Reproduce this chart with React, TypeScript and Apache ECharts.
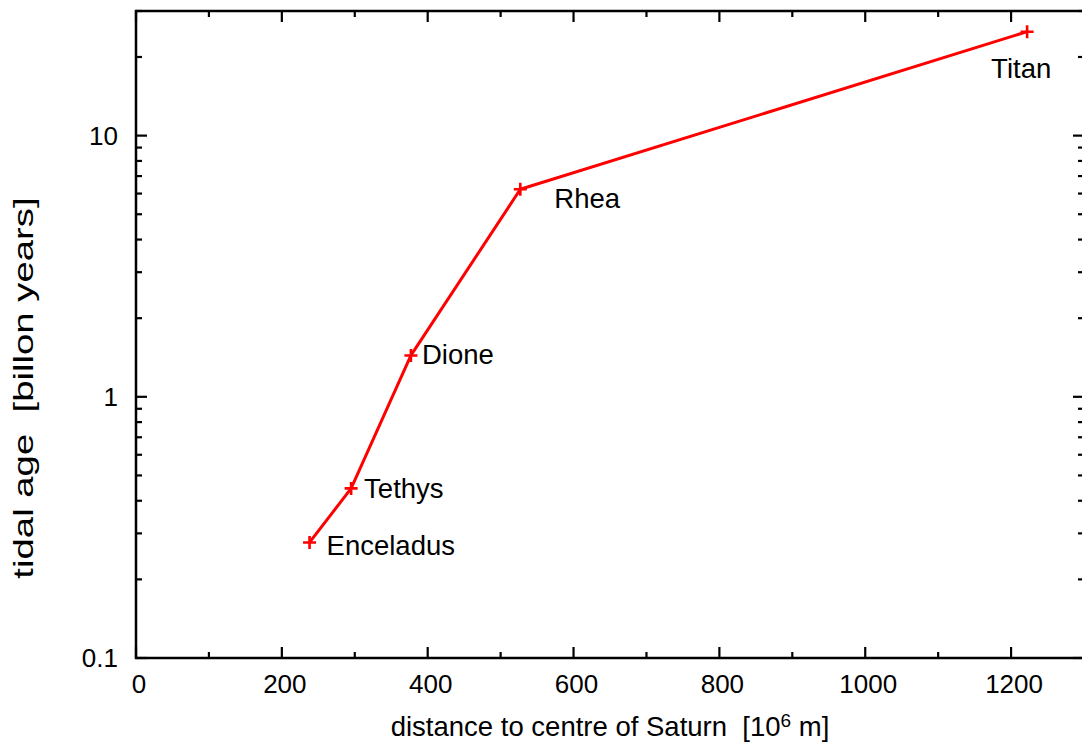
import React, { useEffect, useRef } from "react";
import * as echarts from "echarts";

const moons = ["Enceladus", "Tethys", "Dione", "Rhea", "Titan"];
const distance = [238, 295, 377, 527, 1222]; // 10^6 m
const tidalAge = [0.277, 0.446, 1.44, 6.23, 25.0]; // billion years
const labelOffsets = [[17, 3], [13, 0], [11, -1], [34, 9], [-36, 37]];

const xMajorTicks = [0, 200, 400, 600, 800, 1000, 1200];
const xMinorTicks = [100, 300, 500, 700, 900, 1100, 1300];
const yMajorTicks = [0.1, 1, 10];
const yMinorTicks = [0.2, 0.3, 0.4, 0.5, 0.6, 0.7, 0.8, 0.9, 2, 3, 4, 5, 6, 7, 8, 9, 20, 30];

const xTitle = "distance to centre of Saturn  [10{sup|6} m]";
const yTitle = "tidal age  [billon years]";

const FONT = "'Liberation Sans', Arial, sans-serif";

export default function App() {
  const ref = useRef<HTMLDivElement>(null);
  useEffect(() => {
    if (!ref.current) return;
    const chart = echarts.init(ref.current, undefined, { renderer: "svg" });
    const MAJ = 11;
    const MIN = 6;
    const tickStyle = { stroke: "#000", lineWidth: 2.2 };
    chart.setOption({
      animation: false,
      backgroundColor: "#fff",
      textStyle: { fontFamily: FONT },
      grid: {
        left: 136,
        top: 11,
        width: 948,
        height: 647,
        show: true,
        borderColor: "#000",
        borderWidth: 2.5,
        backgroundColor: "transparent",
      },
      graphic: [
        {
          type: "text",
          x: 24,
          y: 388,
          rotation: Math.PI / 2,
          scaleX: 1.42,
          style: {
            text: yTitle,
            fill: "#000",
            fontSize: 27,
            fontFamily: FONT,
            align: "center",
            verticalAlign: "middle",
          },
        },
      ],
      xAxis: {
        type: "value",
        min: 0,
        max: 1300,
        interval: 200,
        axisLine: { show: false },
        axisTick: { show: false },
        splitLine: { show: false },
        axisLabel: {
          color: "#000",
          fontSize: 26,
          fontFamily: FONT,
          margin: 13,
          padding: [0, 0, 0, 6],
          showMaxLabel: false,
          formatter: (v: number) => (v > 1200 ? "" : String(v)),
        },
        name: xTitle,
        nameLocation: "middle",
        nameGap: 53,
        nameTextStyle: {
          color: "#000",
          fontSize: 27.5,
          fontFamily: FONT,
          rich: {
            sup: { fontSize: 19, fontFamily: FONT, color: "#000", verticalAlign: "top", padding: [0, 0, 12, 0] },
          },
        },
      },
      yAxis: {
        type: "log",
        logBase: 10,
        min: 0.1,
        max: 30,
        axisLine: { show: false },
        axisTick: { show: false },
        splitLine: { show: false },
        axisLabel: {
          color: "#000",
          fontSize: 26,
          fontFamily: FONT,
          margin: 18,
          formatter: (v: number) => {
            const l = Math.log10(v);
            if (Math.abs(l - Math.round(l)) > 1e-6) return "";
            const r = Math.pow(10, Math.round(l));
            return r < 1 ? r.toFixed(1) : String(Math.round(r));
          },
        },
      },
      series: [
        {
          type: "custom",
          silent: true,
          clip: false,
          data: [[0, 1]],
          renderItem: (params: any, api: any) => {
            const cs = params.coordSys;
            const x0 = cs.x, y0 = cs.y, w = cs.width, h = cs.height;
            const children: any[] = [];
            const addX = (v: number, len: number) => {
              const px = api.coord([v, 1])[0];
              if (px > x0 + w + 0.5) return;
              children.push({ type: "line", shape: { x1: px, y1: y0 + h, x2: px, y2: y0 + h - len }, style: tickStyle });
              children.push({ type: "line", shape: { x1: px, y1: y0, x2: px, y2: y0 + len }, style: tickStyle });
            };
            const addY = (v: number, len: number) => {
              const py = api.coord([0, v])[1];
              children.push({ type: "line", shape: { x1: x0, y1: py, x2: x0 + len, y2: py }, style: tickStyle });
              children.push({ type: "line", shape: { x1: x0 + w, y1: py, x2: x0 + w - len, y2: py }, style: tickStyle });
            };
            xMajorTicks.forEach((v) => addX(v, MAJ));
            xMinorTicks.forEach((v) => addX(v, MIN));
            yMajorTicks.forEach((v) => addY(v, MAJ));
            yMinorTicks.forEach((v) => addY(v, MIN));
            return { type: "group", children };
          },
        },
        {
          type: "line",
          data: distance.map((d, i) => ({
            value: [d, tidalAge[i]],
            name: moons[i],
            label: {
              show: true,
              position: "inside",
              align: "left",
              verticalAlign: "middle",
              offset: labelOffsets[i],
              formatter: moons[i],
              color: "#000",
              fontSize: 27.5,
              fontFamily: FONT,
            },
          })),
          lineStyle: { color: "#ff0000", width: 3 },
          itemStyle: { color: "#ff0000" },
          symbol: "path://M4,0H6V4H10V6H6V10H4V6H0V4H4Z",
          symbolSize: 13,
          showSymbol: true,
        },
      ],
    });
    return () => chart.dispose();
  }, []);
  return (
    <div
      ref={ref}
      style={{ position: "fixed", left: 0, top: 0, width: 1090, height: 751, background: "#fff" }}
    />
  );
}
